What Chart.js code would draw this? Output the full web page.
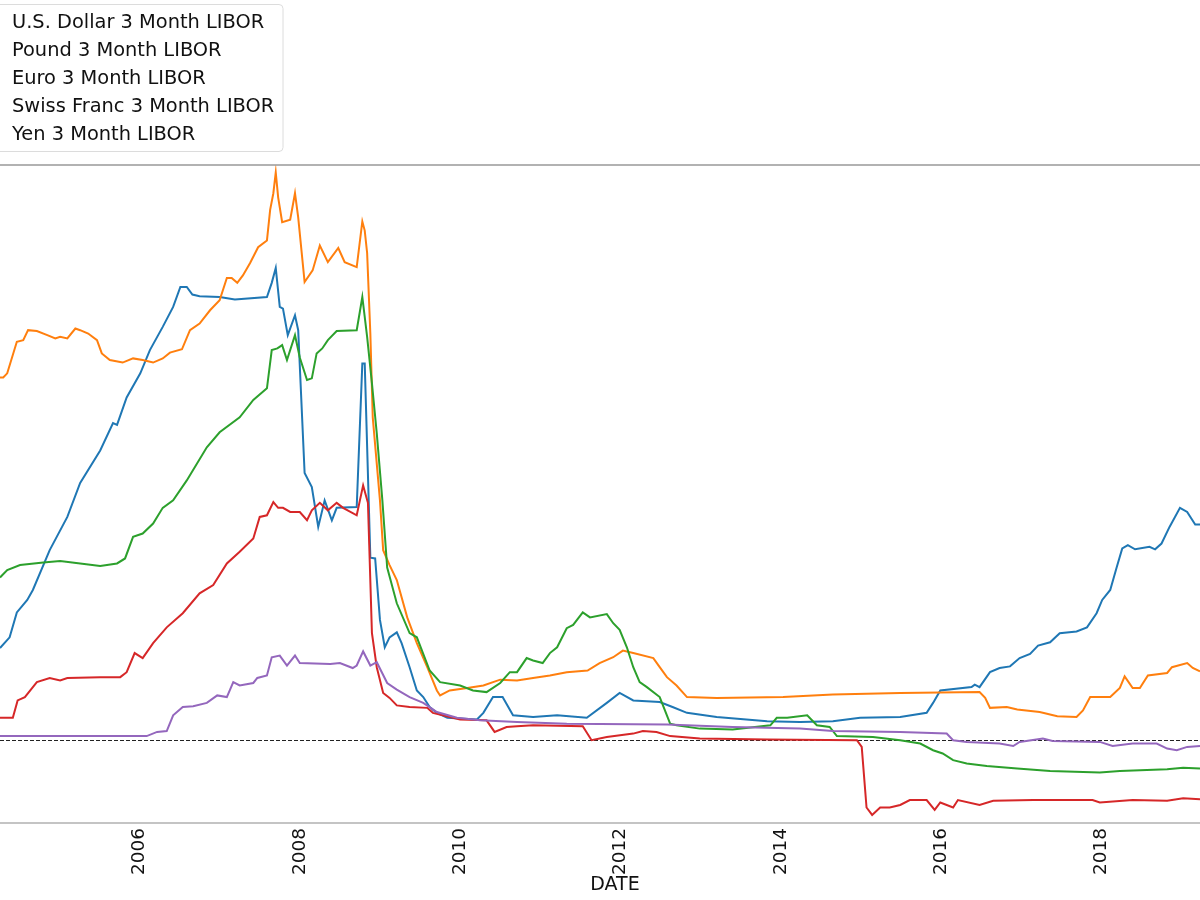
<!DOCTYPE html>
<html>
<head>
<meta charset="utf-8">
<script src="https://cdn.jsdelivr.net/npm/chart.js@4"></script>
<style>
  html, body { margin: 0; padding: 0; background: #fff; }
  #wrap { width: 1200px; height: 900px; }
</style>
</head>
<body>
<div id="wrap"><canvas id="libor" width="1200" height="900"></canvas></div>
<script>
// x axis ticks and labels
const tickYears = [2006, 2008, 2010, 2012, 2014, 2016, 2018];
const xTitle = 'DATE';

const seriesNames = [
  'U.S. Dollar 3 Month LIBOR',
  'Pound 3 Month LIBOR',
  'Euro 3 Month LIBOR',
  'Swiss Franc 3 Month LIBOR',
  'Yen 3 Month LIBOR'
];
const seriesColors = ['#1f77b4', '#ff7f0e', '#2ca02c', '#d62728', '#9467bd'];

// U.S. Dollar (decimal year / percent)
const usdYears = [2004.26, 2004.38, 2004.47, 2004.60, 2004.67, 2004.88, 2005.10, 2005.26, 2005.51, 2005.67, 2005.72, 2005.84, 2006.01, 2006.13, 2006.29, 2006.42, 2006.51, 2006.59, 2006.66, 2006.75, 2007.00, 2007.19, 2007.59, 2007.65, 2007.70, 2007.75, 2007.79, 2007.85, 2007.94, 2007.98, 2008.06, 2008.15, 2008.23, 2008.31, 2008.40, 2008.46, 2008.71, 2008.78, 2008.81, 2008.88, 2008.94, 2009.00, 2009.06, 2009.12, 2009.21, 2009.27, 2009.37, 2009.46, 2009.54, 2009.62, 2009.71, 2009.84, 2010.21, 2010.29, 2010.41, 2010.53, 2010.66, 2010.91, 2011.21, 2011.58, 2011.83, 2011.99, 2012.16, 2012.49, 2012.65, 2012.83, 2013.20, 2013.83, 2014.24, 2014.65, 2014.99, 2015.49, 2015.82, 2015.90, 2015.99, 2016.38, 2016.42, 2016.48, 2016.61, 2016.73, 2016.86, 2016.98, 2017.11, 2017.21, 2017.36, 2017.48, 2017.69, 2017.82, 2017.94, 2018.01, 2018.11, 2018.19, 2018.26, 2018.33, 2018.42, 2018.60, 2018.67, 2018.75, 2018.85, 2018.98, 2019.07, 2019.17, 2019.23];
const usdRates = [1.11, 1.24, 1.54, 1.69, 1.81, 2.29, 2.69, 3.10, 3.49, 3.82, 3.80, 4.13, 4.42, 4.70, 4.98, 5.22, 5.46, 5.46, 5.37, 5.35, 5.34, 5.31, 5.34, 5.51, 5.69, 5.22, 5.20, 4.88, 5.12, 4.94, 3.22, 3.05, 2.57, 2.89, 2.65, 2.80, 2.81, 4.54, 4.54, 2.20, 2.19, 1.45, 1.12, 1.24, 1.30, 1.17, 0.88, 0.60, 0.52, 0.40, 0.33, 0.27, 0.25, 0.33, 0.52, 0.52, 0.30, 0.28, 0.30, 0.27, 0.45, 0.57, 0.48, 0.46, 0.40, 0.33, 0.28, 0.23, 0.22, 0.23, 0.27, 0.28, 0.33, 0.45, 0.60, 0.64, 0.67, 0.64, 0.82, 0.87, 0.89, 0.99, 1.04, 1.14, 1.18, 1.29, 1.31, 1.36, 1.53, 1.69, 1.81, 2.08, 2.31, 2.35, 2.30, 2.33, 2.30, 2.37, 2.57, 2.80, 2.75, 2.60, 2.60];

// Pound
const gbpYears = [2004.26, 2004.30, 2004.35, 2004.47, 2004.55, 2004.61, 2004.72, 2004.85, 2004.95, 2005.01, 2005.10, 2005.20, 2005.26, 2005.36, 2005.47, 2005.53, 2005.63, 2005.79, 2005.92, 2006.04, 2006.17, 2006.29, 2006.38, 2006.53, 2006.63, 2006.75, 2006.88, 2007.00, 2007.09, 2007.15, 2007.22, 2007.29, 2007.38, 2007.48, 2007.59, 2007.63, 2007.67, 2007.70, 2007.73, 2007.78, 2007.88, 2007.94, 2007.98, 2008.06, 2008.16, 2008.25, 2008.35, 2008.48, 2008.56, 2008.71, 2008.78, 2008.81, 2008.84, 2008.88, 2008.91, 2009.00, 2009.04, 2009.12, 2009.21, 2009.34, 2009.46, 2009.59, 2009.71, 2009.75, 2009.87, 2010.09, 2010.29, 2010.50, 2010.71, 2010.91, 2011.12, 2011.33, 2011.59, 2011.74, 2011.91, 2012.03, 2012.16, 2012.41, 2012.49, 2012.58, 2012.70, 2012.83, 2013.20, 2014.03, 2014.65, 2015.49, 2016.48, 2016.55, 2016.61, 2016.82, 2016.95, 2017.23, 2017.45, 2017.69, 2017.77, 2017.86, 2018.11, 2018.23, 2018.29, 2018.39, 2018.48, 2018.58, 2018.82, 2018.88, 2019.07, 2019.14, 2019.23];
const gbpRates = [4.37, 4.37, 4.42, 4.80, 4.82, 4.94, 4.93, 4.88, 4.84, 4.86, 4.84, 4.96, 4.94, 4.90, 4.82, 4.66, 4.58, 4.55, 4.60, 4.58, 4.55, 4.60, 4.67, 4.71, 4.94, 5.02, 5.18, 5.30, 5.57, 5.57, 5.51, 5.60, 5.75, 5.94, 6.02, 6.39, 6.59, 6.84, 6.54, 6.24, 6.27, 6.59, 6.30, 5.52, 5.66, 5.96, 5.76, 5.93, 5.76, 5.70, 6.25, 6.14, 5.87, 4.90, 3.89, 2.89, 2.29, 2.11, 1.93, 1.48, 1.17, 0.88, 0.60, 0.54, 0.60, 0.63, 0.66, 0.73, 0.72, 0.75, 0.78, 0.82, 0.84, 0.93, 1.00, 1.08, 1.05, 0.99, 0.88, 0.76, 0.66, 0.52, 0.51, 0.52, 0.55, 0.57, 0.58, 0.51, 0.39, 0.40, 0.37, 0.34, 0.29, 0.28, 0.36, 0.52, 0.52, 0.63, 0.77, 0.63, 0.63, 0.78, 0.81, 0.88, 0.93, 0.87, 0.83];

// Euro
const eurYears = [2004.26, 2004.35, 2004.51, 2004.80, 2005.01, 2005.26, 2005.51, 2005.72, 2005.82, 2005.92, 2006.04, 2006.17, 2006.29, 2006.42, 2006.59, 2006.84, 2007.00, 2007.25, 2007.42, 2007.59, 2007.65, 2007.72, 2007.78, 2007.84, 2007.94, 2008.00, 2008.09, 2008.15, 2008.21, 2008.28, 2008.35, 2008.46, 2008.71, 2008.78, 2008.84, 2008.90, 2008.96, 2009.03, 2009.09, 2009.21, 2009.37, 2009.46, 2009.62, 2009.75, 2010.00, 2010.16, 2010.33, 2010.50, 2010.62, 2010.71, 2010.83, 2010.91, 2011.03, 2011.12, 2011.21, 2011.33, 2011.41, 2011.53, 2011.62, 2011.83, 2011.91, 2011.99, 2012.08, 2012.16, 2012.24, 2012.33, 2012.49, 2012.62, 2012.70, 2012.99, 2013.40, 2013.87, 2013.95, 2014.08, 2014.33, 2014.45, 2014.61, 2014.70, 2015.15, 2015.49, 2015.74, 2015.90, 2016.02, 2016.15, 2016.32, 2016.57, 2016.95, 2017.36, 2017.98, 2018.23, 2018.82, 2019.02, 2019.23];
const eurRates = [1.96, 2.05, 2.11, 2.14, 2.16, 2.13, 2.10, 2.13, 2.19, 2.45, 2.49, 2.61, 2.80, 2.89, 3.13, 3.53, 3.71, 3.89, 4.10, 4.24, 4.70, 4.72, 4.76, 4.58, 4.88, 4.61, 4.34, 4.36, 4.66, 4.72, 4.82, 4.93, 4.94, 5.34, 4.86, 4.30, 3.70, 2.89, 2.08, 1.65, 1.29, 1.24, 0.84, 0.70, 0.66, 0.60, 0.58, 0.69, 0.82, 0.82, 0.99, 0.96, 0.93, 1.05, 1.12, 1.35, 1.39, 1.54, 1.48, 1.52, 1.41, 1.33, 1.12, 0.88, 0.70, 0.64, 0.52, 0.20, 0.18, 0.14, 0.13, 0.18, 0.27, 0.27, 0.30, 0.18, 0.16, 0.05, 0.04, 0.00, -0.04, -0.12, -0.16, -0.24, -0.28, -0.31, -0.34, -0.37, -0.39, -0.37, -0.35, -0.33, -0.34];

// Swiss Franc
const chfYears = [2004.26, 2004.42, 2004.48, 2004.57, 2004.67, 2004.72, 2004.88, 2005.01, 2005.10, 2005.51, 2005.76, 2005.84, 2005.94, 2006.04, 2006.17, 2006.34, 2006.54, 2006.75, 2006.92, 2007.09, 2007.25, 2007.42, 2007.50, 2007.59, 2007.67, 2007.73, 2007.79, 2007.88, 2008.00, 2008.09, 2008.15, 2008.25, 2008.35, 2008.46, 2008.54, 2008.71, 2008.79, 2008.85, 2008.90, 2008.96, 2009.04, 2009.12, 2009.21, 2009.37, 2009.59, 2009.66, 2010.00, 2010.33, 2010.43, 2010.58, 2010.71, 2010.91, 2011.53, 2011.64, 2011.83, 2012.16, 2012.28, 2012.45, 2012.62, 2012.99, 2013.83, 2014.95, 2015.01, 2015.07, 2015.14, 2015.24, 2015.36, 2015.49, 2015.61, 2015.82, 2015.92, 2015.99, 2016.15, 2016.21, 2016.48, 2016.65, 2017.15, 2017.89, 2017.98, 2018.39, 2018.82, 2019.02, 2019.23];
const chfRates = [0.27, 0.27, 0.48, 0.52, 0.64, 0.70, 0.75, 0.72, 0.75, 0.76, 0.76, 0.82, 1.05, 0.99, 1.17, 1.36, 1.53, 1.77, 1.87, 2.13, 2.27, 2.43, 2.69, 2.71, 2.87, 2.80, 2.80, 2.75, 2.75, 2.65, 2.77, 2.86, 2.77, 2.86, 2.80, 2.71, 3.07, 2.86, 1.29, 0.88, 0.57, 0.51, 0.42, 0.40, 0.39, 0.33, 0.25, 0.24, 0.10, 0.16, 0.17, 0.18, 0.17, 0.00, 0.04, 0.08, 0.11, 0.10, 0.05, 0.02, 0.01, 0.00, -0.08, -0.81, -0.90, -0.81, -0.81, -0.78, -0.72, -0.72, -0.84, -0.75, -0.81, -0.72, -0.78, -0.73, -0.72, -0.72, -0.75, -0.72, -0.73, -0.70, -0.71];

// Yen
const jpyYears = [2004.26, 2006.09, 2006.22, 2006.34, 2006.42, 2006.54, 2006.67, 2006.84, 2006.97, 2007.09, 2007.17, 2007.25, 2007.42, 2007.47, 2007.59, 2007.65, 2007.75, 2007.84, 2007.94, 2008.00, 2008.38, 2008.50, 2008.66, 2008.71, 2008.79, 2008.88, 2008.96, 2009.09, 2009.21, 2009.37, 2009.54, 2009.71, 2009.96, 2010.25, 2010.71, 2011.33, 2012.58, 2013.40, 2014.24, 2014.65, 2015.49, 2016.07, 2016.15, 2016.32, 2016.73, 2016.90, 2016.98, 2017.27, 2017.39, 2017.98, 2018.14, 2018.39, 2018.69, 2018.82, 2018.94, 2019.07, 2019.23];
const jpyRates = [0.05, 0.05, 0.10, 0.11, 0.30, 0.40, 0.41, 0.45, 0.54, 0.52, 0.70, 0.66, 0.69, 0.75, 0.78, 1.00, 1.02, 0.90, 1.02, 0.93, 0.92, 0.93, 0.87, 0.90, 1.07, 0.90, 0.94, 0.69, 0.61, 0.52, 0.45, 0.34, 0.27, 0.24, 0.22, 0.20, 0.19, 0.16, 0.14, 0.11, 0.10, 0.08, 0.00, -0.02, -0.04, -0.07, -0.02, 0.02, -0.01, -0.02, -0.07, -0.04, -0.04, -0.10, -0.12, -0.08, -0.07];

const FONT = 'DejaVu Sans';

function toPoints(xs, ys) {
  return xs.map((x, i) => ({ x: x, y: ys[i] }));
}

const allSeries = [
  [usdYears, usdRates],
  [gbpYears, gbpRates],
  [eurYears, eurRates],
  [chfYears, chfRates],
  [jpyYears, jpyRates]
];

const datasets = allSeries.map((s, i) => ({
  label: seriesNames[i],
  data: toPoints(s[0], s[1]),
  borderColor: seriesColors[i],
  backgroundColor: seriesColors[i],
  borderWidth: 2,
  pointRadius: 0,
  tension: 0,
  fill: false,
  // later series sit on top, like the original
  order: allSeries.length - i
}));

// spines, zero line, legend box and axis title
const decorations = {
  id: 'decorations',
  beforeDatasetsDraw(chart) {
    const { ctx, chartArea, scales } = chart;
    const y0 = Math.round(scales.y.getPixelForValue(0)) + 0.5;
    ctx.save();
    ctx.strokeStyle = '#222';
    ctx.lineWidth = 1;
    ctx.setLineDash([4, 2]);
    ctx.beginPath();
    ctx.moveTo(chartArea.left, y0);
    ctx.lineTo(chartArea.right, y0);
    ctx.stroke();
    ctx.restore();
  },
  afterDraw(chart) {
    const { ctx, chartArea } = chart;
    ctx.save();
    // top spine
    ctx.strokeStyle = '#999';
    ctx.lineWidth = 1.5;
    ctx.beginPath();
    ctx.moveTo(chartArea.left, chartArea.top);
    ctx.lineTo(chartArea.right, chartArea.top);
    ctx.stroke();

    // legend box (its left edge is off the page)
    ctx.fillStyle = 'rgba(255,255,255,0.8)';
    ctx.strokeStyle = '#dcdcdc';
    ctx.lineWidth = 1;
    ctx.beginPath();
    ctx.roundRect(-10, 4.5, 293, 147, 4);
    ctx.fill();
    ctx.stroke();

    ctx.fillStyle = '#111';
    ctx.font = '19.4px "' + FONT + '"';
    ctx.textBaseline = 'alphabetic';
    ctx.textAlign = 'left';
    seriesNames.forEach((name, i) => {
      ctx.fillText(name, 12, 28 + i * 28);
    });

    // x axis title
    ctx.font = '19px "' + FONT + '"';
    ctx.textAlign = 'center';
    ctx.textBaseline = 'middle';
    ctx.fillText(xTitle, 615, 885);
    ctx.restore();
  }
};

new Chart(document.getElementById('libor'), {
  type: 'line',
  data: { datasets: datasets },
  options: {
    responsive: false,
    animation: false,
    devicePixelRatio: 1,
    layout: { padding: { top: 165, left: 0, right: 0, bottom: 20 } },
    plugins: {
      legend: { display: false },
      tooltip: { enabled: false }
    },
    scales: {
      x: {
        type: 'linear',
        min: 2004.26,
        max: 2019.23,
        grid: { display: false, drawTicks: false },
        border: { display: true, color: '#c4c4c4', width: 2 },
        afterBuildTicks(scale) {
          scale.ticks = tickYears.map(v => ({ value: v }));
        },
        ticks: {
          autoSkip: false,
          minRotation: 90,
          maxRotation: 90,
          padding: 5,
          color: '#111',
          font: { family: FONT, size: 18.5 },
          callback: v => String(v)
        }
      },
      y: {
        display: false,
        min: -0.996,
        max: 6.93
      }
    }
  },
  plugins: [decorations]
});
</script>
</body>
</html>
